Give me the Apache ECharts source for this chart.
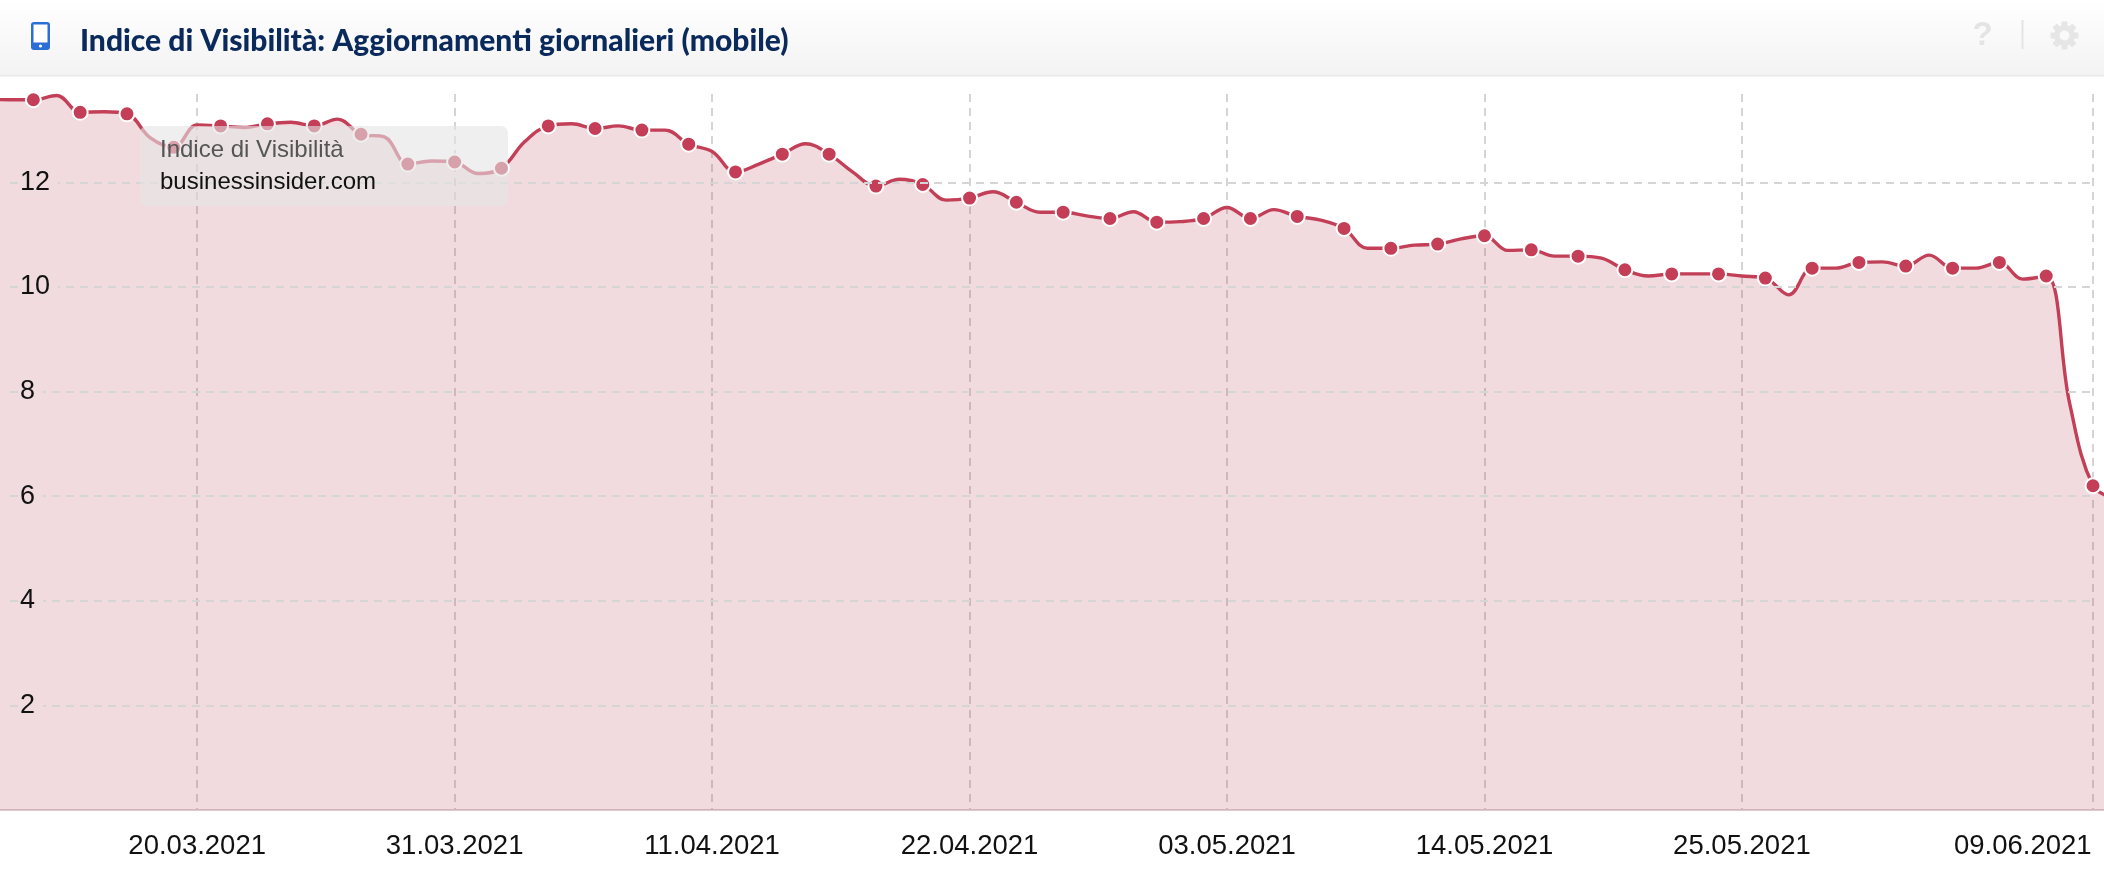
<!DOCTYPE html>
<html>
<head>
<meta charset="utf-8">
<style>html,body{margin:0;padding:0;background:#fff}#c{width:2104px;height:874px}</style>
<script src="https://cdn.jsdelivr.net/npm/echarts@6/dist/echarts.min.js"></script>
</head>
<body>
<div id="c"></div>
<script>
const titleText = 'Indice di Visibilità: Aggiornamenti giornalieri (mobile)';
const tipTitle = 'Indice di Visibilità';
const tipDomain = 'businessinsider.com';
const DAY = 86400000;
const firstDay = Date.UTC(2021, 2, 11);
// daily values 11.03.2021 .. 10.06.2021
const values = [
13.59,13.58,13.58,13.66,13.34,13.35,13.31,12.85,12.67,13.10,
13.08,13.05,13.12,13.15,13.08,13.21,12.92,12.87,12.35,12.41,12.39,
12.17,12.27,12.78,13.08,13.12,13.03,13.08,13.00,13.00,12.73,
12.59,12.20,12.35,12.54,12.74,12.54,12.20,11.93,12.06,11.96,
11.66,11.70,11.82,11.62,11.43,11.43,11.36,11.31,11.44,11.24,
11.25,11.31,11.52,11.31,11.48,11.35,11.28,11.12,10.74,10.74,
10.80,10.82,10.92,10.98,10.70,10.71,10.59,10.59,10.55,10.33,
10.21,10.25,10.25,10.25,10.21,10.17,9.85,10.36,10.36,10.47,10.48,
10.40,10.61,10.36,10.36,10.47,10.15,10.21,7.78,6.20,5.95
];
const tickDates = [Date.UTC(2021,2,20),Date.UTC(2021,2,31),Date.UTC(2021,3,11),Date.UTC(2021,3,22),Date.UTC(2021,4,3),Date.UTC(2021,4,14),Date.UTC(2021,4,25),Date.UTC(2021,5,9)];
const tickLabels = ['20.03.2021','31.03.2021','11.04.2021','22.04.2021','03.05.2021','14.05.2021','25.05.2021','09.06.2021'];
const labelAnchors = tickDates.slice(0,7).concat([Date.UTC(2021,5,6)]);
const yTicks = [2,4,6,8,10,12];

const xMin = firstDay + 0.575*DAY;
const xMax = Date.UTC(2021,5,9) + 0.47*DAY;
const yMax = 13.69;

const seriesData = values.map((v,i)=>({
  value:[firstDay+i*DAY, v],
  symbol: i%2===0 ? 'circle' : 'none'
}));

// gear teeth
const gx=2064.5, gy=35.5, gearParts=[{type:'ring',shape:{cx:gx,cy:gy,r:10.5,r0:5},style:{fill:'#e6e6e6'},z:50}];
for(let k=0;k<8;k++){
  gearParts.push({type:'rect',x:gx,y:gy,originX:0,originY:0,rotation:k*Math.PI/4,
    shape:{x:-3,y:-14,width:6,height:6,r:1},style:{fill:'#e6e6e6'},z:50});
}

const graphic = [
 {type:'rect',shape:{x:0,y:0,width:2104,height:75},z:40,
  style:{fill:new echarts.graphic.LinearGradient(0,0,0,1,[{offset:0,color:'#ffffff'},{offset:1,color:'#f3f3f3'}])}},
 {type:'rect',shape:{x:0,y:75,width:2104,height:1.5},style:{fill:'#e9e9e9'},z:40},
 // phone icon
 {type:'rect',shape:{x:31,y:22,width:19,height:28,r:3},style:{fill:'#2b6fd6'},z:50},
 {type:'rect',shape:{x:33.5,y:24.5,width:14,height:18},style:{fill:'#ffffff'},z:51},
 {type:'circle',shape:{cx:40.5,cy:46,r:1.6},style:{fill:'#ffffff'},z:51},
 {type:'text',x:80,y:41,z:50,style:{text:titleText,fill:'#0b2a5c',font:'900 30px Lato',textAlign:'left',textVerticalAlign:'middle'}},
 {type:'text',x:1982.5,y:36,z:50,style:{text:'?',fill:'#e4e4e4',font:'bold 33px "Liberation Sans"',textAlign:'center',textVerticalAlign:'middle'}},
 {type:'rect',shape:{x:2021.5,y:20,width:2,height:29},style:{fill:'#e4e4e4'},z:50},
 ...gearParts,
 // overlay box
 {type:'rect',shape:{x:140,y:126,width:368,height:80,r:7},style:{fill:'rgba(228,228,228,0.6)'},z:60},
 {type:'text',x:160,y:150,z:61,style:{text:tipTitle,fill:'#555555',font:'24px "Liberation Sans"',textAlign:'left',textVerticalAlign:'middle'}},
 {type:'text',x:160,y:182,z:61,style:{text:tipDomain,fill:'#111111',font:'24px "Liberation Sans"',textAlign:'left',textVerticalAlign:'middle'}}
];

const gridColor = '#d5d5d5';
const chart = echarts.init(document.getElementById('c'),null,{renderer:'canvas',width:2104,height:874});
chart.setOption({
  animation:false,
  backgroundColor:'#ffffff',
  tooltip:{show:false},
  graphic:graphic,
  grid:[
    {left:0,right:0,top:94,height:716},
    {left:10,width:2084,top:94,height:716}
  ],
  xAxis:[
    {type:'value',gridIndex:0,min:xMin,max:xMax,
      axisLine:{show:true,onZero:false,lineStyle:{color:'#dccdd0',width:2}},
      axisTick:{show:false,customValues:tickDates},
      splitLine:{show:true,lineStyle:{color:gridColor,width:2,type:[8,6]}},
      axisLabel:{show:true,customValues:labelAnchors,hideOverlap:false,
        formatter:(v)=>tickLabels[labelAnchors.indexOf(v)],
        fontFamily:'Liberation Sans',fontSize:27.5,color:'#111111',margin:22}
    },
    {type:'value',gridIndex:1,min:0,max:1,show:false,splitLine:{show:false}}
  ],
  yAxis:[
    {type:'value',gridIndex:0,min:0,max:yMax,show:false,splitLine:{show:false}},
    {type:'value',gridIndex:1,min:0,max:yMax,z:5,
      axisLine:{show:false},axisTick:{show:false,customValues:yTicks},
      splitLine:{show:true,lineStyle:{color:gridColor,width:2,type:[8,6]}},
      axisLabel:{inside:true,margin:8,customValues:yTicks,fontFamily:'Liberation Sans',fontSize:27,color:'#111111',
        backgroundColor:'#f0dcdf',padding:[0,8,0,2]}
    }
  ],
  series:[{
    type:'line',xAxisIndex:0,yAxisIndex:0,data:seriesData,
    smooth:0.38,showSymbol:true,showAllSymbol:true,symbolSize:15,clip:true,
    lineStyle:{color:'#c23f57',width:3.4},
    itemStyle:{color:'#c43e57',borderColor:'#ffffff',borderWidth:2,opacity:1},
    areaStyle:{color:'rgba(178,58,80,0.18)',origin:'start',opacity:1},
    emphasis:{disabled:true},silent:true,z:3
  }]
});
</script>
</body>
</html>
